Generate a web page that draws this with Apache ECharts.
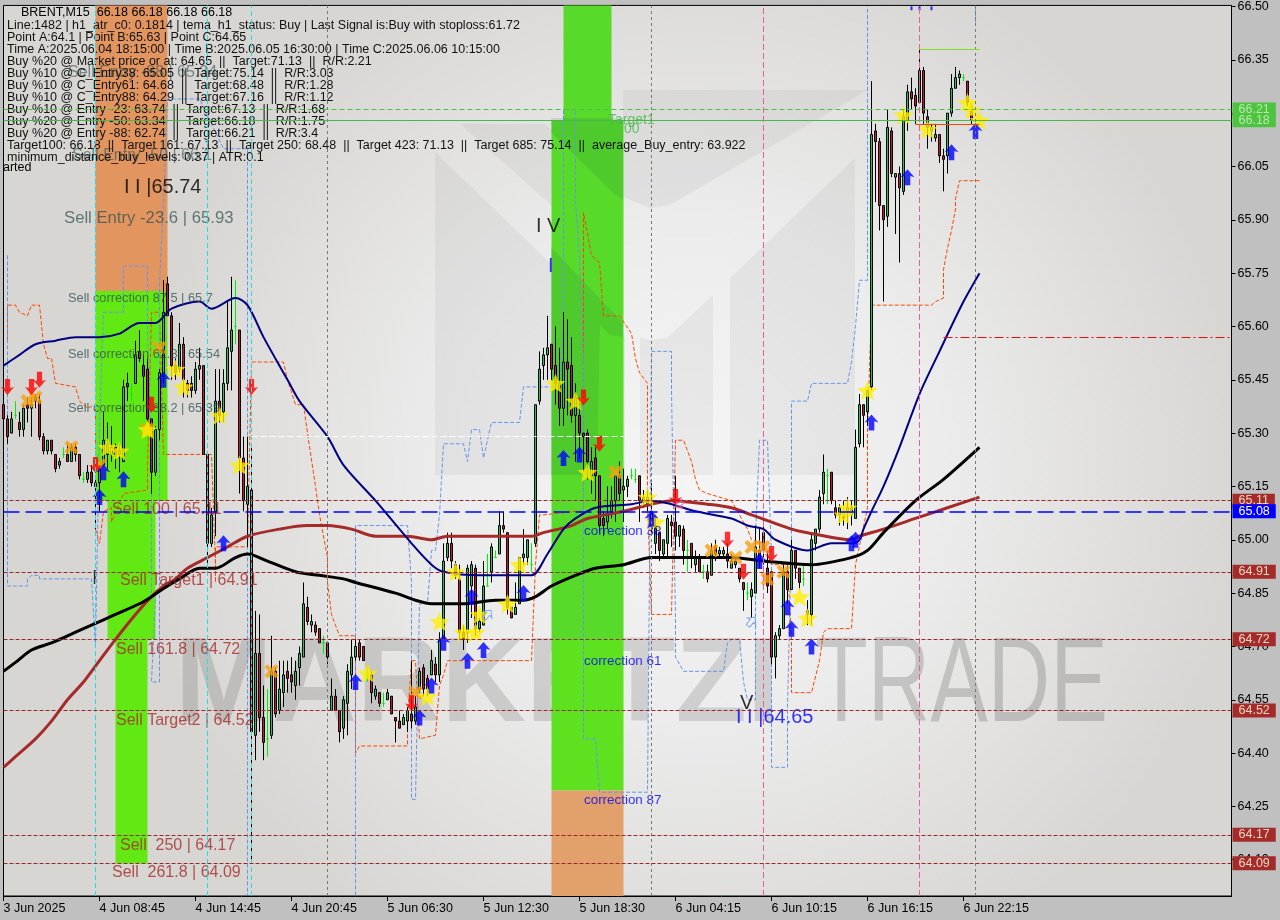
<!DOCTYPE html>
<html><head><meta charset="utf-8">
<style>html,body{margin:0;padding:0;background:#c0c0c0}#c{width:1280px;height:920px}</style>
<script src="https://cdn.jsdelivr.net/npm/echarts@6/dist/echarts.min.js"></script>
</head><body><div id="c"></div>
<script>
const opens=[65.38,65.34,65.30,65.35,65.33,65.31,65.38,65.37,65.39,65.39,
65.29,65.25,65.28,65.24,65.21,65.24,65.24,65.22,65.26,65.24,
65.17,65.17,65.19,65.16,65.16,65.21,65.24,65.24,65.26,65.24,
65.22,65.44,65.41,65.44,65.53,65.49,65.48,65.34,65.19,65.31,
65.46,65.72,65.63,65.49,65.48,65.55,65.44,65.44,65.42,65.48,
65.49,65.24,64.99,65.08,65.39,65.36,65.44,65.53,65.60,65.59,
65.23,65.10,65.14,64.45,64.68,64.50,64.44,64.45,64.63,64.52,
64.57,64.63,64.62,64.59,64.64,64.67,64.81,64.76,64.76,64.75,
64.71,64.71,64.52,64.56,64.52,64.47,64.54,64.62,64.67,64.71,
64.70,64.62,64.62,64.56,64.57,64.54,64.55,64.56,64.50,64.49,
64.48,64.49,64.51,64.49,64.58,64.64,64.61,64.62,64.65,64.62,
64.72,64.95,64.99,64.93,64.89,64.74,64.74,64.87,64.92,64.75,
64.76,64.87,64.91,64.95,64.96,65.04,65.02,64.81,64.79,64.82,
64.95,64.95,64.93,64.99,65.39,65.49,65.52,65.55,65.49,65.44,
65.37,65.50,65.49,65.35,65.35,65.30,65.30,65.18,65.23,65.18,
65.06,65.05,65.08,65.11,65.18,65.14,65.15,65.18,65.17,65.18,
65.12,65.10,65.04,64.99,65.02,64.96,64.99,65.05,65.05,65.01,
65.03,64.97,64.99,64.93,64.95,64.91,64.91,64.90,64.98,64.96,
64.96,64.96,64.92,64.93,64.92,64.88,64.85,64.84,64.85,64.97,
65.02,64.92,64.91,64.67,64.73,64.75,64.91,64.86,64.97,64.92,
64.89,64.80,64.79,64.99,65.03,65.13,65.18,65.19,65.09,65.07,
65.08,65.08,65.09,65.06,65.27,65.38,65.36,65.43,66.15,66.12,
65.94,65.91,66.15,66.02,66.03,65.98,66.18,66.26,66.25,66.23,
66.32,66.19,66.15,66.13,66.14,66.08,66.08,66.20,66.27,66.30,
66.30,66.29,66.22];
const highs=[65.40,65.35,65.36,65.39,65.36,65.38,65.40,65.40,65.41,65.41,
65.30,65.28,65.28,65.24,65.23,65.26,65.27,65.27,65.27,65.24,
65.19,65.21,65.21,65.18,65.21,65.36,65.33,65.32,65.27,65.27,
65.45,65.47,65.44,65.56,65.59,65.52,65.51,65.34,65.32,65.48,
65.73,65.74,65.64,65.51,65.61,65.57,65.45,65.46,65.50,65.54,
65.49,65.24,65.09,65.48,65.48,65.48,65.67,65.74,65.73,65.59,
65.29,65.29,65.26,64.80,64.79,64.59,64.58,64.73,64.64,64.66,
64.66,64.66,64.67,64.66,64.70,64.88,64.84,64.79,64.77,64.75,
64.73,64.71,64.61,64.58,64.52,64.56,64.65,64.72,64.72,64.72,
64.70,64.65,64.63,64.59,64.57,64.57,64.58,64.56,64.50,64.52,
64.51,64.53,64.66,64.56,64.64,64.65,64.62,64.69,64.67,64.74,
64.99,65.02,65.02,64.94,64.93,64.76,64.93,64.94,64.93,64.78,
64.94,64.96,64.99,64.97,65.08,65.08,65.02,64.81,64.88,64.95,
65.03,65.00,64.99,65.38,65.53,65.54,65.63,65.55,65.60,65.54,
65.64,65.62,65.57,65.44,65.40,65.30,65.31,65.26,65.26,65.18,
65.08,65.15,65.15,65.18,65.22,65.20,65.18,65.20,65.20,65.18,
65.14,65.14,65.16,65.07,65.02,65.00,65.07,65.07,65.18,65.04,
65.04,65.00,64.99,64.97,64.96,64.93,64.93,64.99,65.00,64.98,
64.98,64.99,64.96,64.95,64.92,64.88,64.88,64.88,65.04,65.03,
65.07,64.97,64.91,64.74,64.76,64.93,64.93,65.00,64.97,64.92,
64.93,64.83,65.02,65.03,65.14,65.24,65.20,65.19,65.11,65.10,
65.11,65.12,65.11,65.31,65.41,65.38,65.42,66.29,66.17,66.13,
65.94,66.21,66.16,66.03,66.05,66.21,66.28,66.30,66.27,66.38,
66.33,66.21,66.17,66.17,66.14,66.10,66.20,66.31,66.33,66.32,
66.31,66.29,66.23];
const lows=[65.30,65.27,65.30,65.34,65.29,65.29,65.33,65.29,65.37,65.28,
65.24,65.24,65.24,65.19,65.20,65.23,65.22,65.22,65.22,65.17,
65.16,65.16,65.15,65.03,65.08,65.20,65.20,65.22,65.20,65.19,
65.22,65.39,65.39,65.44,65.50,65.39,65.33,65.13,65.18,65.28,
65.44,65.63,65.45,65.45,65.47,65.40,65.40,65.40,65.41,65.45,
65.24,64.93,64.98,65.01,65.33,65.33,65.42,65.42,65.55,65.13,
65.08,64.98,64.10,64.38,64.46,64.38,64.39,64.44,64.50,64.51,
64.53,64.57,64.57,64.55,64.59,64.67,64.76,64.74,64.73,64.71,
64.68,64.65,64.52,64.52,64.43,64.44,64.45,64.58,64.66,64.66,
64.66,64.60,64.54,64.55,64.53,64.53,64.55,64.51,64.43,64.47,
64.48,64.46,64.47,64.48,64.57,64.56,64.56,64.62,64.60,64.60,
64.72,64.94,64.92,64.89,64.72,64.69,64.71,64.78,64.73,64.74,
64.76,64.87,64.88,64.95,64.96,65.02,64.79,64.78,64.79,64.82,
64.93,64.93,64.91,64.98,65.38,65.45,65.45,65.45,65.38,65.32,
65.32,65.35,65.33,65.22,65.23,65.19,65.17,65.13,65.11,65.02,
65.01,65.03,65.06,65.05,65.11,65.05,65.12,65.17,65.16,65.05,
65.09,65.08,65.02,64.96,64.94,64.95,64.95,64.98,64.97,64.98,
64.93,64.91,64.92,64.91,64.91,64.89,64.88,64.90,64.94,64.95,
64.95,64.92,64.92,64.92,64.88,64.80,64.83,64.78,64.85,64.92,
64.93,64.85,64.65,64.61,64.72,64.75,64.82,64.86,64.89,64.86,
64.87,64.76,64.76,64.97,65.02,65.10,65.10,65.10,65.06,65.04,
65.04,65.03,65.04,65.06,65.26,65.26,65.32,65.42,65.95,65.87,
65.67,65.88,66.02,65.86,65.78,65.97,66.15,66.21,66.17,66.23,
66.17,66.10,66.12,66.12,66.06,65.98,66.03,66.19,66.27,66.28,
66.29,66.22,66.17];
const closes=[65.34,65.29,65.34,65.35,65.31,65.37,65.37,65.38,65.40,65.29,
65.25,65.28,65.25,65.20,65.22,65.24,65.22,65.26,65.24,65.18,
65.17,65.19,65.16,65.15,65.20,65.28,65.27,65.26,65.24,65.25,
65.43,65.43,65.41,65.52,65.51,65.46,65.34,65.19,65.31,65.47,
65.64,65.63,65.49,65.47,65.55,65.45,65.42,65.42,65.48,65.49,
65.24,64.99,65.07,65.39,65.35,65.44,65.54,65.59,65.60,65.23,
65.11,65.15,64.46,64.68,64.50,64.43,64.44,64.63,64.51,64.58,
64.62,64.61,64.60,64.63,64.68,64.82,64.77,64.77,64.74,64.71,
64.71,64.67,64.56,64.52,64.46,64.55,64.63,64.67,64.70,64.67,
64.66,64.62,64.57,64.58,64.54,64.54,64.57,64.51,64.49,64.47,
64.50,64.52,64.49,64.53,64.63,64.58,64.58,64.66,64.62,64.72,
64.94,64.99,64.94,64.90,64.74,64.72,64.92,64.93,64.75,64.77,
64.87,64.87,64.98,64.95,65.04,65.03,64.81,64.78,64.81,64.95,
64.96,65.00,64.93,65.38,65.48,65.52,65.54,65.48,65.44,65.37,
65.50,65.48,65.35,65.40,65.30,65.29,65.22,65.22,65.18,65.04,
65.04,65.07,65.11,65.18,65.13,65.15,65.17,65.18,65.17,65.11,
65.11,65.12,65.08,65.04,64.97,65.00,65.06,65.04,65.01,65.04,
64.97,64.97,64.95,64.95,64.91,64.91,64.89,64.97,64.96,64.97,
64.97,64.94,64.94,64.94,64.89,64.86,64.85,64.86,64.98,64.94,
64.97,64.87,64.67,64.73,64.75,64.91,64.86,64.97,64.92,64.88,
64.89,64.79,65.00,65.03,65.12,65.19,65.18,65.11,65.07,65.09,
65.06,65.09,65.07,65.26,65.38,65.35,65.42,66.14,66.12,65.94,
65.90,66.16,66.03,66.03,65.99,66.19,66.26,66.24,66.22,66.32,
66.20,66.16,66.16,66.14,66.08,66.07,66.20,66.27,66.30,66.31,
66.30,66.23,66.18];
const slotCount=308;
const timeLabels=['3 Jun 2025','4 Jun 08:45','4 Jun 14:45','4 Jun 20:45','5 Jun 06:30','5 Jun 12:30','5 Jun 18:30','6 Jun 04:15','6 Jun 10:15','6 Jun 16:15','6 Jun 22:15'];
const yTicks=[66.50,66.35,66.20,66.05,65.90,65.75,65.60,65.45,65.30,65.15,65.00,64.85,64.70,64.55,64.40,64.25,64.10];
const navyLine=[[0,65.49],[4,65.52],[8,65.55],[13,65.56],[18,65.57],[24,65.57],[29,65.58],[34,65.61],[38,65.61],[42,65.65],[49,65.67],[52,65.65],[58,65.68],[61,65.66],[65,65.57],[71,65.45],[74,65.39],[81,65.29],[85,65.21],[93,65.11],[102,64.99],[107,64.93],[110,64.91],[119,64.90],[126,64.90],[132,64.90],[136,64.96],[140,65.03],[143,65.06],[148,65.09],[157,65.10],[162,65.11],[167,65.10],[173,65.08],[182,65.06],[186,65.04],[190,65.03],[193,65.00],[201,64.97],[207,64.99],[212,64.99],[214,65.00],[215,65.03],[217,65.08],[220,65.15],[224,65.26],[229,65.41],[234,65.53],[240,65.67],[244,65.75]];
const blackLine=[[0,64.63],[3,64.655],[7,64.69],[12,64.71],[16,64.73],[22,64.76],[28,64.79],[34,64.82],[37,64.84],[41,64.87],[44,64.89],[49,64.92],[53,64.92],[58,64.95],[61,64.96],[66,64.94],[73,64.91],[79,64.90],[85,64.89],[88,64.88],[98,64.85],[103,64.83],[107,64.82],[115,64.82],[123,64.83],[130,64.83],[133,64.84],[137,64.87],[143,64.90],[148,64.92],[155,64.93],[162,64.95],[168,64.95],[182,64.95],[190,64.94],[202,64.93],[212,64.95],[216,64.97],[220,65.02],[228,65.11],[235,65.17],[244,65.26]];
const brownLine=[[0,64.36],[3,64.39],[8,64.44],[12,64.49],[16,64.55],[20,64.60],[24,64.66],[28,64.72],[33,64.79],[37,64.84],[40,64.87],[43,64.89],[46,64.92],[51,64.95],[56,64.98],[61,65.01],[69,65.03],[76,65.04],[81,65.04],[87,65.03],[93,65.01],[101,65.01],[107,65.00],[111,65.01],[117,65.01],[121,65.01],[132,65.01],[135,65.02],[142,65.04],[146,65.06],[155,65.08],[162,65.10],[167,65.11],[176,65.10],[182,65.09],[187,65.07],[197,65.03],[201,65.02],[212,65.00],[214,65.01],[220,65.03],[228,65.06],[236,65.09],[244,65.12]];
const orangeBand=[[1,65.56],[1,65.66],[3,65.66],[4,65.64],[6,65.63],[7,65.66],[9,65.66],[10,65.55],[11,65.51],[12,65.51],[13,65.44],[18,65.43],[19,65.39],[21,65.37],[23,65.38],[23,65.03],[24,64.99],[25,65.08],[27,65.09],[27,65.05],[30,65.13],[36,65.14],[36,65.20],[37,65.64],[39,65.64],[40,65.24],[52,65.24],[53,64.93],[53,64.88],[53,64.98],[61,64.98],[62,65.50],[70,65.50],[71,65.45],[73,65.38],[75,65.38],[76,65.30],[78,65.15],[79,65.07],[81,64.95],[81,64.88],[82,64.79],[84,64.73],[88,64.73],[88,64.40],[89,64.42],[101,64.42],[101,64.49],[102,64.66],[103,64.66],[104,64.44],[108,64.45],[109,64.59],[110,64.62],[111,64.66],[132,64.66],[133,64.93],[134,65.07],[135,65.07],[143,65.08],[145,65.08],[145,65.92],[147,65.80],[149,65.78],[150,65.63],[154,65.63],[157,65.58],[158,65.51],[159,65.47],[161,65.44],[161,65.10],[162,64.79],[167,64.79],[168,65.28],[170,65.28],[172,65.22],[173,65.17],[174,65.14],[176,65.13],[182,65.11],[184,65.07],[186,65.03],[187,65.00],[190,64.99],[192,64.93],[196,64.93],[197,64.72],[197,64.57],[202,64.57],[204,64.66],[205,64.74],[206,64.75],[212,64.75],[213,64.93],[216,65.09],[216,65.30],[217,65.66],[232,65.66],[233,65.67],[235,65.68],[235,65.76],[236,65.82],[237,65.87],[238,65.93],[238,65.96],[239,66.01],[244,66.01]];
const blueBand=[[1,65.80],[1,64.87],[6,64.87],[6,64.89],[7,64.90],[9,64.90],[9,64.89],[22,64.89],[23,64.70],[24,65.32],[25,65.64],[30,65.64],[30,65.77],[36,65.77],[36,65.60],[37,65.20],[37,64.85],[38,64.84],[37,64.60],[39,64.60],[39,64.88],[39,65.72],[40,65.95],[41,66.24],[49,66.24],[55,66.10],[60,66.10],[61,66.10],[61,64.0],[61,null],[88,64.0],[88,65.04],[101,65.04],[102,64.88],[102,64.27],[103,64.27],[104,64.82],[106,64.82],[107,64.97],[108,64.97],[109,65.07],[110,65.27],[115,65.27],[116,65.22],[117,65.31],[119,65.31],[120,65.23],[122,65.33],[129,65.33],[130,65.43],[139,65.43],[140,65.60],[140,66.21],[143,66.21],[143,65.95],[144,65.80],[145,65.5],[145,64.44],[148,64.44],[149,64.29],[161,64.29],[162,65.53],[167,65.53],[167,65.42],[168,64.78],[168,64.67],[170,64.63],[180,64.63],[181,64.71],[182,64.72],[184,64.72],[185,64.60],[186,64.55],[188,64.55],[188,65.01],[189,65.28],[191,65.28],[192,64.95],[192,64.36],[196,64.36],[196,64.53],[197,65.00],[197,65.39],[201,65.39],[202,65.44],[211,65.44],[212,65.50],[213,65.60],[214,65.73],[216,65.73],[216,66.5],[216,null],[243,66.50],[243,66.45]];
const starPoints=[[26,65.26],[29,65.25],[36,65.31],[43,65.48],[45,65.43],[54,65.35],[59,65.21],[91,64.625],[106,64.56],[109,64.77],[113,64.91],[115,64.74],[118,64.74],[119,64.79],[126,64.82],[129,64.93],[138,65.44],[143,65.39],[146,65.19],[161,65.12],[163,65.05],[199,64.84],[201,64.78],[210,65.07],[211,65.09],[216,65.42],[225,66.195],[231,66.155],[241,66.23],[242,66.21],[244,66.18]];
const crossPoints=[[6,65.39],[8,65.40],[17,65.26],[24,65.21],[36,65.31],[39,65.54],[67,64.63],[103,64.57],[153,65.19],[177,64.97],[183,64.95],[187,64.98],[190,64.98],[191,64.89],[195,64.91]];
const downPoints=[[1,65.43],[7,65.43],[9,65.45],[23,65.21],[37,65.38],[62,65.43],[102,64.54],[145,65.40],[149,65.27],[168,65.12],[181,65.00],[185,64.91],[192,64.96]];
const upPoints=[[24,65.12],[25,65.19],[30,65.17],[40,65.45],[55,64.99],[88,64.60],[104,64.50],[107,64.59],[110,64.71],[116,64.66],[120,64.69],[117,64.84],[130,64.85],[140,65.23],[144,65.24],[162,65.06],[189,64.94],[196,64.81],[197,64.75],[202,64.70],[212,64.99],[213,65.00],[217,65.33],[226,66.02],[237,66.09],[243,66.15]];
const hollowBluePoints=[[121,64.79],[187,64.77]];
const hollowPinkPoints=[[169,65.10]];
const topTicks=[[227,66.495],[229,66.495],[232,66.495]];
const levelValues=[65.11,64.91,64.72,64.52,64.17,64.09];
const blueLevel=65.08;
const greenLevels=[66.21,66.18];
const cyanBars=[23,51,62];
const grayBars=[81,162,243];
const pinkBars=[190,229];
const textTexts=['Sell Entry -88 | 65.34','Sell Entry -50 | 66.1','I I |65.74','Sell Entry -23.6 | 65.93','Sell correction 87.5 | 65.7','Sell correction 61.8 | 65.54','Sell correction 38.2 | 65.39','Sell 100 | 65.11','Sell Target1 | 64.91','Sell 161.8 | 64.72','Sell Target2 | 64.52','Sell  250 | 64.17','Sell  261.8 | 64.09','I V','I','I','V','I I |64.65','correction 38','correction 61','correction 87','Target1','00'];
const textBars=[16,17,30,15,16,16,16,27,29,28,28,29,27,133,136,22,184,183,145,145,145,151,155];
const textPrices=[66.315,66.08,65.99,65.905,65.68,65.52,65.37,65.086,64.884,64.69,64.49,64.14,64.065,65.88,65.77,64.89,64.54,64.50,65.025,64.657,64.267,66.18,66.155];
const textColors=['rgba(47,79,79,.75)','rgba(47,79,79,.75)','#000','rgba(47,79,79,.9)','rgba(47,79,79,.95)','rgba(47,79,79,.95)','rgba(47,79,79,.95)','#a52a2a','#a52a2a','#a52a2a','#a52a2a','#a52a2a','#a52a2a','#000','#0000ff','#000','#000','#0000ff','#0000ff','#0000ff','#0000ff','#47b84a','#47b84a'];
const textSizes=[16,16,20,16.7,12.8,12.8,12.8,16,16,16,16,16,16,20,20,20,20,20,13.4,13.4,13.4,14,14];
const infoLines=['Line:1482 | h1_atr_c0: 0.1814 | tema_h1_status: Buy | Last Signal is:Buy with stoploss:61.72','Point A:64.1 | Point B:65.63 | Point C:64.65','Time A:2025.06.04 18:15:00 | Time B:2025.06.05 16:30:00 | Time C:2025.06.06 10:15:00','Buy %20 @ Market price or at: 64.65 || Target:71.13 || R/R:2.21','Buy %10 @ C_Entry38: 65.05 || Target:75.14 || R/R:3.03','Buy %10 @ C_Entry61: 64.68 || Target:68.48 || R/R:1.28','Buy %10 @ C_Entry88: 64.29 || Target:67.16 || R/R:1.12','Buy %10 @ Entry -23: 63.74 || Target:67.13 || R/R:1.68','Buy %20 @ Entry -50: 63.34 || Target:66.18 || R/R:1.75','Buy %20 @ Entry -88: 62.74 || Target:66.21 || R/R:3.4','Target100: 66.18 || Target 161: 67.13 || Target 250: 68.48 || Target 423: 71.13 || Target 685: 75.14 || average_Buy_entry: 63.922','minimum_distance_buy_levels: 0.37 | ATR:0.1'];

const FONT='"Liberation Sans",Arial,sans-serif';
const categories=Array.from({length:slotCount},(_,i)=>i%24===0&&timeLabels[i/24]?timeLabels[i/24]:'');
const candle=opens.map((o,i)=>{
  const it={value:[o,closes[i],lows[i],highs[i]]};
  if(o===closes[i]) it.itemStyle={color:'#00ee00',color0:'#00ee00',borderColor:'#00ee00',borderColor0:'#00ee00'};
  return it;
});
const ARROW_UP='path://M5 0 L10 7 L7 6 L7 14 L3 14 L3 6 L0 7 Z';
const ARROW_DN='path://M3 0 L7 0 L7 8 L10 7 L5 14 L0 7 L3 8 Z';
const STAR='path://M50 0 L64 34 L100 37 L73 60 L81 95 L50 76 L19 95 L27 60 L0 37 L36 34 Z';
const CROSS='path://M0 2 L2 0 L5 2.6 L8 0 L10 2 L7.4 5 L10 8 L8 10 L5 7.4 L2 10 L0 8 L2.6 5 Z';
const lineBase={type:'line',symbol:'none',showSymbol:false,animation:false,silent:true,connectNulls:false};
const scat=(data,symbol,size,color,z,extra)=>Object.assign({type:'scatter',data,symbol,symbolSize:size,itemStyle:{color},z,silent:true,animation:false},extra||{});
const hLine=(v,color,dash,label,w)=>({yAxis:v,lineStyle:{color,type:dash,width:w||1},label});
const tag=(bg,fg)=>({show:true,position:'end',distance:1,formatter:p=>p.value.toFixed(2),backgroundColor:bg,color:fg,padding:[1,6,1,6],fontFamily:FONT,fontSize:12.5,lineHeight:12});
const vLines=[].concat(
  cyanBars.map(b=>({xAxis:b,lineStyle:{color:'#20dfe6',type:[5,3],width:1}})),
  grayBars.map(b=>({xAxis:b,lineStyle:{color:'#777',type:[3,3],width:1}})),
  pinkBars.map(b=>({xAxis:b,lineStyle:{color:'#e85f9d',type:[6,3],width:1}}))
);
const graphics=[];
const logoFill='rgba(0,0,0,.045)';
[[[435,152],[625,335],[625,475],[435,475]],
 [[640,337],[650,340],[667,338],[713,295],[713,475],[640,475]],
 [[730,278],[855,158],[855,475],[730,475]],
 [[623,90],[868,90],[670,205],[650,208],[623,197]],
 [[460,124],[545,124],[623,197],[623,228],[551,205]]
].forEach(p=>graphics.push({type:'polygon',z:0.5,silent:true,shape:{points:p},style:{fill:logoFill}}));
graphics.push({type:'text',z:0.6,silent:true,x:175,y:688,scaleX:.975,style:{text:'MARKETZI',font:'bold 120px '+FONT,fill:'rgba(0,0,0,.125)',textAlign:'left',textVerticalAlign:'middle'}});
graphics.push({type:'text',z:0.6,silent:true,x:815,y:688,scaleX:.72,style:{text:'TRADE',font:'120px '+FONT,fill:'rgba(0,0,0,.16)',textAlign:'left',textVerticalAlign:'middle'}});
[[[551,118],[623,118],[623,200],[613,193],[551,132]],
 [[551,247],[623,323],[623,337],[610,335],[551,275]],
 [[551,275],[600,325],[597,475],[551,475]]
].forEach(p=>graphics.push({type:'polygon',z:1.5,silent:true,shape:{points:p},style:{fill:'rgba(0,70,60,.11)'}}));
const INFOFONT='12.5px '+FONT;
graphics.push({type:'text',z:20,silent:true,x:21,y:12.5,style:{text:'BRENT,M15  66.18 66.18 66.18 66.18',font:INFOFONT,fill:'#000',textVerticalAlign:'middle'}});
infoLines.forEach((t,i)=>graphics.push({type:'text',z:20,silent:true,x:7,y:25.5+12*i,style:{text:t.replace(/ \|\| /g,'  ||  '),font:INFOFONT,fill:'#111',textVerticalAlign:'middle'}}));
graphics.push({type:'text',z:20,silent:true,x:3,y:168,style:{text:'arted',font:INFOFONT,fill:'#000',textVerticalAlign:'middle'}});

const option={
  animation:false,
  backgroundColor:'#c0c0c0',
  textStyle:{fontFamily:FONT},
  grid:{left:3.5,top:3,width:1228,height:893,show:true,borderColor:'#000',borderWidth:1,
    backgroundColor:{type:'radial',x:.56,y:.52,r:.62,colorStops:[{offset:0,color:'#f5f5f5'},{offset:.45,color:'#ececec'},{offset:1,color:'#d7d6d3'}]}},
  xAxis:{type:'category',data:categories,boundaryGap:false,
    axisLine:{lineStyle:{color:'#000'}},
    axisTick:{show:true,length:5,interval:(i,v)=>v!=='',lineStyle:{color:'#000'}},
    axisLabel:{show:true,interval:(i,v)=>v!=='',align:'left',margin:6,color:'#000',fontFamily:FONT,fontSize:12.5,showMinLabel:true,hideOverlap:false},
    splitLine:{show:false}},
  yAxis:{type:'value',position:'right',min:63.998,max:66.503,scale:true,
    axisLine:{show:true,lineStyle:{color:'#000'}},
    axisTick:{show:true,length:4,customValues:yTicks,lineStyle:{color:'#000'}},
    axisLabel:{color:'#000',margin:6,fontFamily:FONT,fontSize:12.5,customValues:yTicks,formatter:v=>v.toFixed(2)},
    splitLine:{show:false}},
  graphic:{elements:graphics},
  series:[
    Object.assign({},lineBase,{data:[],z:1,markArea:{silent:true,animation:false,z:1,data:[
      [{xAxis:23,yAxis:66.503,itemStyle:{color:'#e2955f'}},{xAxis:41,yAxis:65.70}],
      [{xAxis:23,yAxis:65.70,itemStyle:{color:'#62e812'}},{xAxis:41,yAxis:65.11}],
      [{xAxis:26,yAxis:65.11,itemStyle:{color:'#62e812'}},{xAxis:38,yAxis:64.72}],
      [{xAxis:28,yAxis:64.72,itemStyle:{color:'#62e812'}},{xAxis:36,yAxis:64.09}],
      [{xAxis:140,yAxis:66.503,itemStyle:{color:'#58da2a'}},{xAxis:152,yAxis:66.18}],
      [{xAxis:137,yAxis:66.18,itemStyle:{color:'#58da2a'}},{xAxis:155,yAxis:64.72}],
      [{xAxis:137,yAxis:64.72,itemStyle:{color:'#5ee220'}},{xAxis:155,yAxis:64.295}],
      [{xAxis:137,yAxis:64.295,itemStyle:{color:'#e2a06a'}},{xAxis:155,yAxis:63.998}]
    ]}}),
    Object.assign({},lineBase,{data:[],z:3,markLine:{silent:true,animation:false,symbol:'none',precision:4,z:30,data:[].concat(
      vLines,
      levelValues.map(v=>hLine(v,'#96282a',[4,2],tag('#a52a2a','#e8d8c0'))),
      [hLine(blueLevel,'#0000ff',[16,6],tag('#0000ff','#fff'),1.5),
       hLine(greenLevels[0],'#4cc04a',[5,3],tag('#4cc43e','#b9e6b0')),
       hLine(greenLevels[1],'#47b84a','solid',tag('#4cc43e','#b9e6b0')),
       [{xAxis:62,yAxis:65.29,lineStyle:{color:'#fff',type:[6,3],width:1}},{xAxis:155,yAxis:65.29}],
       [{xAxis:235,yAxis:65.57,lineStyle:{color:'#e01010',type:[9,3,2,3],width:1}},{xAxis:307,yAxis:65.57}],
       [{xAxis:229,yAxis:66.38,lineStyle:{color:'#7ee020',type:'solid',width:1}},{xAxis:244,yAxis:66.38}],
       [{xAxis:228,yAxis:66.17,lineStyle:{color:'#ff4500',type:'solid',width:1}},{xAxis:244,yAxis:66.17}]]
    ),label:{show:false}}}),
    Object.assign({},lineBase,{data:orangeBand,z:4,lineStyle:{color:'#ff4500',width:1,type:[4,2]}}),
    Object.assign({},lineBase,{data:blueBand,z:4,lineStyle:{color:'#6495ed',width:1,type:[4,2]}}),
    {type:'candlestick',data:candle,barWidth:2,z:5,silent:true,animation:false,
     itemStyle:{color:'#00d070',color0:'#d0103c',borderColor:'#000',borderColor0:'#000',borderWidth:1}},
    Object.assign({},lineBase,{data:brownLine,z:6,smooth:.3,lineStyle:{color:'#a52a2a',width:3}}),
    Object.assign({},lineBase,{data:blackLine,z:6,smooth:.3,lineStyle:{color:'#000',width:3}}),
    Object.assign({},lineBase,{data:navyLine,z:6,smooth:.3,lineStyle:{color:'#000080',width:2}}),
    scat(crossPoints,CROSS,[14,14],'#f8a010',7),
    scat(starPoints,STAR,[20,19],'#ffee00',8),
    scat(downPoints,ARROW_DN,[13,16],'#ff0000',8),
    scat(upPoints,ARROW_UP,[14,16],'#0000ff',8),
    scat(hollowBluePoints,ARROW_UP,[11,11],'rgba(255,255,255,.3)',8,{symbolRotate:-40,itemStyle:{color:'rgba(255,255,255,.3)',borderColor:'#6495ed',borderWidth:1}}),
    scat(hollowPinkPoints,ARROW_UP,[10,10],'rgba(255,255,255,.3)',8,{symbolRotate:130,itemStyle:{color:'rgba(255,255,255,.3)',borderColor:'#f04090',borderWidth:1}}),
    scat(topTicks,'rect',[2,4],'#0000ff',8),
    {type:'scatter',z:12,silent:true,animation:false,symbol:'circle',symbolSize:1,itemStyle:{color:'rgba(0,0,0,0)'},
     labelLayout:{hideOverlap:false},
     data:textTexts.map((t,i)=>({value:[textBars[i],textPrices[i]],label:{show:true,formatter:()=>t,position:'right',distance:0,color:textColors[i],fontSize:textSizes[i],fontFamily:FONT}}))}
  ]
};
const chart=echarts.init(document.getElementById('c'),null,{renderer:'canvas',width:1280,height:920});
chart.setOption(option);
</script></body></html>
